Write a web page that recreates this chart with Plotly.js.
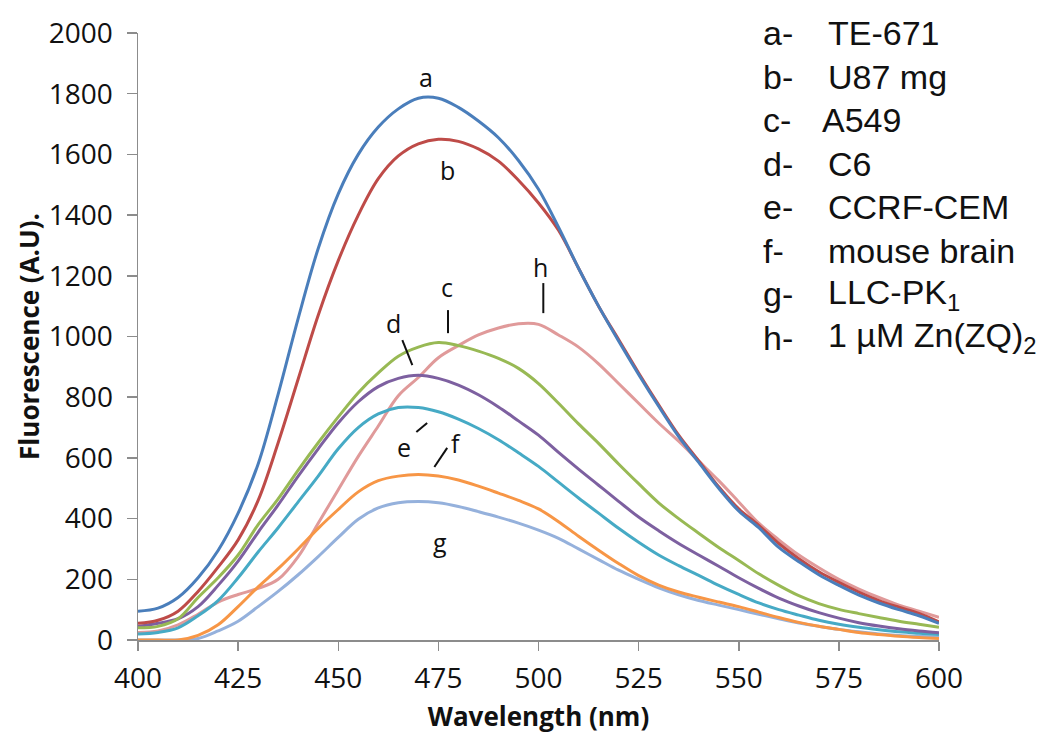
<!DOCTYPE html>
<html>
<head>
<meta charset="utf-8">
<script src="https://cdn.plot.ly/plotly-3.0.1.min.js"></script>
<style>html,body{margin:0;padding:0;background:#fff;}#chart{width:1052px;height:741px;}</style>
</head>
<body>
<div id="chart"></div>
<script>
const wavelength = [400,405,410,415,420,425,430,435,440,445,450,455,460,465,470,475,480,485,490,495,500,505,510,515,520,525,530,535,540,545,550,555,560,565,570,575,580,585,590,595,600];

const seriesA = [95,105,140,205,295,418,580,810,1060,1290,1470,1600,1690,1750,1785,1785,1755,1710,1655,1580,1485,1360,1225,1100,985,875,770,670,585,500,425,370,305,258,215,180,148,122,100,80,55];
const seriesB = [55,65,95,160,240,330,460,650,860,1070,1250,1400,1520,1595,1635,1650,1643,1618,1578,1515,1440,1350,1225,1100,990,880,775,675,590,505,432,378,318,268,225,190,158,130,108,88,60];
const seriesC = [40,45,70,140,205,280,380,465,560,650,735,815,880,935,965,980,970,952,928,895,845,780,712,648,580,515,452,400,352,305,262,218,180,146,120,101,87,74,62,52,42];
const seriesD = [45,55,70,110,180,260,355,445,540,630,715,785,835,862,872,862,840,808,768,722,675,618,563,510,457,405,360,318,280,243,205,170,138,112,90,72,57,46,37,30,24];
const seriesE = [20,25,40,80,130,205,290,370,455,540,630,700,745,766,766,752,728,697,660,617,572,520,468,418,368,322,280,245,213,180,150,122,100,82,65,52,42,34,27,22,18];
const seriesF = [0,0,0,15,50,110,175,235,300,368,430,488,525,540,545,540,527,507,484,460,432,390,342,296,252,212,181,158,141,125,110,92,74,58,45,35,25,18,12,8,5];
const seriesG = [0,0,0,5,30,62,110,160,215,275,338,398,435,452,456,452,440,423,405,385,362,335,300,265,230,200,172,149,130,115,100,85,70,56,45,35,27,20,15,12,10];
const seriesH = [25,30,50,85,125,150,170,200,275,385,495,605,705,805,865,930,970,1005,1028,1042,1040,1005,965,910,845,780,715,655,590,525,455,385,330,280,238,200,168,140,115,95,75];

const curveLetters = ['a','b','c','d','e','f','g','h'];
const curveNames = ['TE-671','U87 mg','A549','C6','CCRF-CEM','mouse brain','LLC-PK<sub>1</sub>','1 µM Zn(ZQ)<sub>2</sub>'];
const curveColors = ['#4a7ebb','#be4b48','#98b954','#7d60a0','#46aac5','#f79646','#95b1dc','#e09a9a'];

const xTicks = [400,425,450,475,500,525,550,575,600];
const yTicks = [0,200,400,600,800,1000,1200,1400,1600,1800,2000];

const allSeries = [seriesA, seriesB, seriesC, seriesD, seriesE, seriesF, seriesG, seriesH];
const drawOrder = [7,6,5,4,3,2,1,0];

const traces = drawOrder.map(i => ({
  x: wavelength,
  y: allSeries[i],
  type: 'scatter',
  mode: 'lines',
  name: curveLetters[i],
  line: {color: curveColors[i], width: 3, shape: 'spline', smoothing: 1},
  hoverinfo: 'x+y+name'
}));

// curve labels (letters) and leader lines, in data coordinates
const labelPos = {
  a: [472, 1855], b: [477.2, 1549], c: [477.2, 1162], d: [463.7, 1045],
  e: [466.3, 636], f: [479.3, 648], g: [475.5, 322], h: [500.5, 1228]
};
const leaderLines = [
  [477.4, 1087, 477.4, 1011],
  [501.2, 1176, 501.2, 1077],
  [466, 988, 468.5, 906],
  [469.5, 685, 472.2, 715],
  [474, 570, 477.2, 633]
];

const annotations = [];
curveLetters.forEach(k => {
  annotations.push({
    x: labelPos[k][0], y: labelPos[k][1], xref: 'x', yref: 'y',
    text: k, showarrow: false,
    font: {family: 'Open Sans', size: 25, color: '#111'},
    xanchor: 'center', yanchor: 'middle'
  });
});
// side key
curveLetters.forEach((k, i) => {
  const py = 33 + 43.5 * i;
  const yPaper = (640 - py) / 607;
  annotations.push({
    x: (761 - 138) / 801, y: yPaper, xref: 'paper', yref: 'paper',
    text: k + '-', showarrow: false, xanchor: 'left', yanchor: 'middle',
    font: {family: 'Liberation Sans, Arial', size: 34, color: '#111'}
  });
  annotations.push({
    x: ((k === 'c' ? 820 : 826) - 138) / 801, y: yPaper, xref: 'paper', yref: 'paper',
    text: curveNames[i], showarrow: false, xanchor: 'left', yanchor: 'middle',
    font: {family: 'Liberation Sans, Arial', size: 34, color: '#111'}
  });
});

const shapes = leaderLines.map(l => ({
  type: 'line', xref: 'x', yref: 'y',
  x0: l[0], y0: l[1], x1: l[2], y1: l[3],
  line: {color: '#111', width: 2}
}));

const layout = {
  width: 1052, height: 741,
  margin: {l: 138, r: 113, t: 33, b: 101, pad: 0},
  paper_bgcolor: '#fff', plot_bgcolor: '#fff',
  showlegend: false,
  font: {family: 'Open Sans', color: '#111'},
  xaxis: {
    range: [400, 600], tickvals: xTicks, ticktext: xTicks.map(String),
    showgrid: false, zeroline: false,
    showline: true, linecolor: '#8c8c8c', linewidth: 1.5,
    ticks: 'outside', ticklen: 9, tickcolor: '#8c8c8c', tickwidth: 1.5,
    tickfont: {family: 'Open Sans', size: 28, color: '#111'},
    ticklabelstandoff: 4,
    title: {text: '<b>Wavelength (nm)</b>', font: {family: 'Open Sans', size: 26, color: '#111'}, standoff: 12}
  },
  yaxis: {
    range: [0, 2000], tickvals: yTicks, ticktext: yTicks.map(String),
    showgrid: false, zeroline: false,
    showline: true, linecolor: '#8c8c8c', linewidth: 1.5,
    ticks: 'outside', ticklen: 10, tickcolor: '#8c8c8c', tickwidth: 1.5,
    tickfont: {family: 'Open Sans', size: 28, color: '#111'},
    ticklabelstandoff: 8,
    title: {text: '<b>Fluorescence (A.U).</b>', font: {family: 'Open Sans', size: 26, color: '#111'}, standoff: 2}
  },
  annotations: annotations,
  shapes: shapes
};

Plotly.newPlot('chart', traces, layout, {displayModeBar: false, staticPlot: true});
</script>
</body>
</html>
